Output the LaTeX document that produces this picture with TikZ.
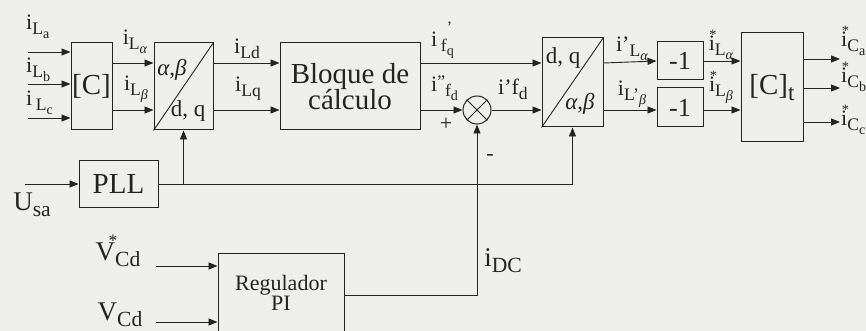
\documentclass[tikz,border=0pt]{standalone}
\usepackage{fontspec}
\setmainfont{Liberation Serif}
\usepackage{tikz}
\usetikzlibrary{arrows.meta,positioning}
\definecolor{paper}{RGB}{238,238,236}
\definecolor{ink}{RGB}{35,35,35}
\newcommand{\lo}[1]{\raisebox{-.5ex}{\scalebox{.8}{#1}}}
\newcommand{\starred}[1]{#1\llap{\raisebox{.5em}{\scalebox{.65}{*}}\hspace{-.08em}}}
\newcommand{\fsz}[1]{\fontsize{#1}{#1}\selectfont}

\begin{document}
\begin{tikzpicture}[x=1pt, y=-1pt, font=\fsz{22}, text=ink,
  blk/.style={draw=ink, line width=1pt, inner sep=0pt, align=center},
  ln/.style={draw=ink, line width=0.9pt},
  arr/.style={ln, -{Triangle[length=9pt,width=7pt]}},
  lbl/.style={inner sep=0pt}]

\fill[paper] (0,0) rectangle (866,331);
\useasboundingbox (0,0) rectangle (866,331);
\coordinate (r1) at (0,63);
\coordinate (r2) at (0,110);

% bloques
\node[blk, minimum width=41pt, minimum height=87pt, font=\fsz{29}] (C) at (91.5,86.5) {[C]};
\node[blk, minimum width=59pt, minimum height=87pt] (abdq) at (183.5,86.5) {};
\node[blk, minimum width=140pt, minimum height=87pt, font=\fsz{29}] (calc) at (350,86.5)
  {Bloque de\\[-3pt]cálculo};
\node[blk, circle, minimum size=28pt] (sum) at (477,110) {};
\node[blk, minimum width=61pt, minimum height=89pt] (dqab) at (572.5,82.5) {};
\node[blk, minimum width=46pt, minimum height=38pt, font=\fsz{26}] (m1) at (680,61) {-1};
\node[blk, minimum width=46pt, minimum height=39pt, font=\fsz{26}] (m2) at (680,107.5) {-1};
\node[blk, minimum width=62pt, minimum height=109pt, font=\fsz{29}] (Ct) at (772,87.5) {[C]\lo{t}};
\node[blk, minimum width=79pt, minimum height=46pt, font=\fsz{29}] (pll) at (118.5,184) {PLL};
\node[blk, minimum width=126pt, minimum height=80pt, font=\fsz{22}] (pi) at (281,293)
  {Regulador\\[-2pt]PI};

\draw[ln] (abdq.south west) -- (abdq.north east);
\draw[ln] (dqab.south west) -- (dqab.north east);
\draw[ln] (sum.45) -- (sum.225) (sum.135) -- (sum.315);
\node[lbl, font=\fsz{23}] (ab1) at (172,70) {\textit{α},\textit{β}};
\node[lbl, font=\fsz{23}] (dq1) at (188,111) {d, q};
\node[lbl, font=\fsz{23}] (dq2) at (563,58) {d, q};
\node[lbl, font=\fsz{23}] (ab2) at (580,104) {\textit{α},\textit{β}};

% entradas
\coordinate (ia) at (28,52);
\coordinate (ib) at (28,84);
\coordinate (ic) at (28,118);
\coordinate (us) at (25,184);
\coordinate (vs) at (156,266);
\coordinate (vr) at (156,322);
\coordinate (oa) at (840,59);
\coordinate (ob) at (840,88);
\coordinate (oc) at (840,122);
\draw[arr] (ia) -- (C.west |- ia);
\draw[arr] (ib) -- (C.west |- ib);
\draw[arr] (ic) -- (C.west |- ic);
\draw[arr] (us) -- (pll.west);
\draw[arr] (vs) -- (pi.west |- vs);
\draw[arr] (vr) -- (pi.west |- vr);

% conexiones
\draw[arr] (C.east |- r1) -- (abdq.west |- r1);
\draw[arr] (C.east |- r2) -- (abdq.west |- r2);
\draw[arr] (abdq.east |- r1) -- (calc.west |- r1);
\draw[arr] (abdq.east |- r2) -- (calc.west |- r2);
\draw[arr] (calc.east |- r1) -- (dqab.west |- r1);
\draw[arr] (calc.east |- r2) -- (sum.west);
\draw[arr] (sum.east) -- (dqab.west |- r2);
\draw[arr] (dqab.east |- r1) -- (m1.west);
\draw[arr] (dqab.east |- r2) -- (m2.west |- r2);
\draw[arr] (m1.east) -- (Ct.west |- m1.east);
\draw[arr] (m2.east |- r2) -- (Ct.west |- r2);
\draw[arr] (Ct.east |- oa) -- (oa);
\draw[arr] (Ct.east |- ob) -- (ob);
\draw[arr] (Ct.east |- oc) -- (oc);
\draw[arr] (pll.east) -| (dqab.south);
\draw[arr] (abdq.south |- pll.east) -- (abdq.south);
\draw[arr] (pi.east |- 0,295) -| (sum.south);

% etiquetas
\node[lbl, anchor=west] (la) at (26,27) {i\lo{L\lo{a}}};
\node[lbl, anchor=west] (lb) at (26,70) {i\lo{L\lo{b}}};
\node[lbl, anchor=west] (lc) at (26,103) {i\,\lo{L\lo{c}}};
\node[lbl] (lal) at (135,42) {i\lo{L\lo{\textit{α}}}};
\node[lbl] (lbe) at (136,89) {i\lo{L\lo{\textit{β}}}};
\node[lbl] (ld) at (247,49) {i\lo{Ld}};
\node[lbl] (lq) at (248,89) {i\lo{Lq}};
\node[lbl, anchor=west] (lfq) at (431,40) {i\,\lo{f\rlap{\raisebox{1.1em}{\scalebox{.9}{’}}}\lo{q}}};
\node[lbl, anchor=west] (lfd) at (431,88) {i\raisebox{.2em}{\scalebox{.8}{”}}\lo{f\lo{d}}};
\node[lbl] (pl) at (446,124) {+};
\node[lbl] (mn) at (490,157) {-};
\node[lbl] (lfd2) at (513,89) {i’f\lo{d}};
\node[lbl] (lpa) at (632,49) {i’\lo{L\lo{\textit{α}}}};
\node[lbl] (lpb) at (632,94) {i\lo{L’\lo{\textit{β}}}};
\node[lbl] (lsa) at (721,45) {\starred{i}\lo{L\lo{\textit{α}}}};
\node[lbl] (lsb) at (721,87) {\starred{i}\lo{L\lo{\textit{β}}}};
\node[lbl, anchor=west] (ca) at (841,41) {\starred{i}\lo{C\lo{a}}};
\node[lbl, anchor=west] (cb) at (841,77) {\starred{i}\lo{C\lo{b}}};
\node[lbl, anchor=west] (cc) at (841,120) {\starred{i}\lo{C\lo{c}}};
\node[lbl, font=\fsz{27}] (usa) at (32,205) {U\lo{sa}};
\node[lbl, font=\fsz{27}] (vsd) at (118,251) {\starred{V}\lo{Cd}};
\node[lbl, font=\fsz{27}] (vrd) at (120,315) {V\lo{Cd}};
\node[lbl, font=\fsz{27}] (idc) at (503,261) {i\lo{DC}};
\end{tikzpicture}
\end{document}
